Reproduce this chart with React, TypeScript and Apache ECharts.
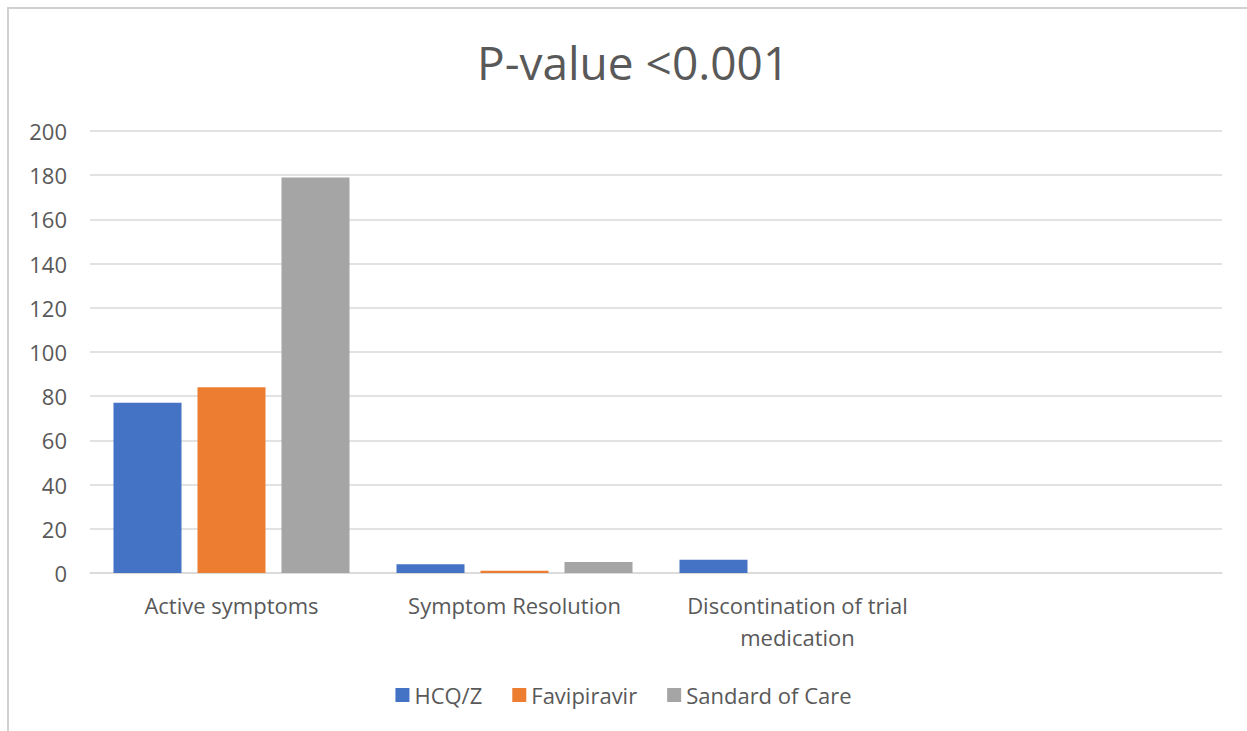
import React, { useEffect, useRef } from "react";
import * as echarts from "echarts";

const categories = ["Active symptoms", "Symptom Resolution", "Discontination of trial\nmedication", ""];
const hcqValues = [77, 4, 6, null];
const faviValues = [84, 1, null, null];
const socValues = [179, 5, null, null];
const yTicks = { min: 0, max: 200, interval: 20 };
const titleText = "P-value <0.001";

export default function App() {
  const ref = useRef<HTMLDivElement>(null);
  useEffect(() => {
    const chart = echarts.init(ref.current!, null, { renderer: "svg" });
    const font = "'Open Sans', sans-serif";
    chart.setOption({
      animation: false,
      backgroundColor: "#ffffff",
      title: {
        text: titleText,
        left: 472,
        top: 34,
        textStyle: { fontFamily: font, fontSize: 46, fontWeight: "normal", color: "#595959" },
      },
      graphic: [
        {
          type: "rect",
          shape: { x: 8, y: 8, width: 1300, height: 800 },
          style: { fill: "none", stroke: "#d0d0d0", lineWidth: 2 },
          silent: true,
        },
      ],
      legend: {
        bottom: 20,
        left: "center",
        itemWidth: 14,
        itemHeight: 14,
        itemGap: 30,
        icon: "rect",
        textStyle: { fontFamily: font, fontSize: 22, color: "#595959" },
      },
      grid: { left: 90, right: 25, top: 131, bottom: 158, containLabel: false },
      xAxis: {
        type: "category",
        data: categories,
        axisLine: { lineStyle: { color: "#d9d9d9", width: 1.5 } },
        axisTick: { show: false },
        axisLabel: { fontFamily: font, fontSize: 22, color: "#595959", margin: 16, lineHeight: 32, interval: 0 },
      },
      yAxis: {
        type: "value",
        min: yTicks.min,
        max: yTicks.max,
        interval: yTicks.interval,
        axisLine: { show: false },
        axisTick: { show: false },
        axisLabel: { fontFamily: font, fontSize: 22, color: "#595959", margin: 23 },
        splitLine: { lineStyle: { color: "#d9d9d9", width: 1.5 } },
      },
      series: [
        { name: "HCQ/Z", type: "bar", data: hcqValues, itemStyle: { color: "#4472c4" }, barGap: "23.5%", barCategoryGap: "16.6%" },
        { name: "Favipiravir", type: "bar", data: faviValues, itemStyle: { color: "#ed7d31" } },
        { name: "Sandard of Care", type: "bar", data: socValues, itemStyle: { color: "#a5a5a5" } },
      ],
    });
    return () => chart.dispose();
  }, []);
  return <div ref={ref} style={{ position: "fixed", left: 0, top: 0, width: 1247, height: 731 }} />;
}
